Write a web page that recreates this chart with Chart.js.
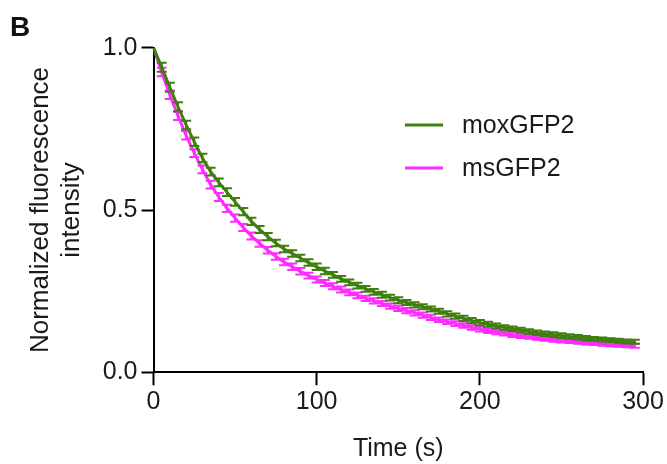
<!DOCTYPE html>
<html>
<head>
<meta charset="utf-8">
<script src="https://cdn.jsdelivr.net/npm/chart.js@4"></script>
<style>
html,body{margin:0;padding:0;background:#fff;}
#wrap{width:667px;height:464px;position:relative;}
</style>
</head>
<body>
<div id="wrap"><canvas id="c" width="667" height="464"></canvas></div>
<script>
// ---- data ----
const panelLabel = 'B';
const xTitle = 'Time (s)';
const yTitle = ['Normalized fluorescence', 'intensity'];
const seriesNames = ['moxGFP2', 'msGFP2'];
const xTicks = [0, 100, 200, 300];
const yTicks = [0.0, 0.5, 1.0];
const times = [0,5,10,15,20,25,30,35,40,45,50,55,60,65,70,75,80,85,90,95,
  100,105,110,115,120,125,130,135,140,145,150,155,160,165,170,175,180,185,190,195,
  200,205,210,215,220,225,230,235,240,245,250,255,260,265,270,275,280,285,290,295];
const moxGFP2 = [1.000,0.940,0.878,0.818,0.762,0.710,0.660,0.618,0.585,0.555,
  0.525,0.495,0.465,0.440,0.418,0.398,0.380,0.366,0.352,0.338,
  0.325,0.312,0.300,0.288,0.277,0.267,0.257,0.248,0.239,0.230,
  0.222,0.215,0.208,0.202,0.195,0.188,0.180,0.173,0.166,0.159,
  0.153,0.148,0.143,0.138,0.134,0.130,0.126,0.122,0.119,0.116,
  0.113,0.110,0.108,0.105,0.103,0.101,0.099,0.097,0.095,0.094];
const moxGFP2Err = [0.000,0.014,0.014,0.014,0.013,0.013,0.013,0.012,0.012,0.012,
  0.012,0.011,0.011,0.011,0.011,0.010,0.010,0.010,0.010,0.010,
  0.010,0.010,0.009,0.009,0.009,0.009,0.009,0.009,0.009,0.009,
  0.009,0.008,0.008,0.008,0.008,0.008,0.008,0.008,0.008,0.008,
  0.008,0.008,0.007,0.007,0.007,0.007,0.007,0.007,0.007,0.007,
  0.007,0.007,0.007,0.007,0.006,0.006,0.006,0.006,0.006,0.006];
const msGFP2 = [1.000,0.925,0.855,0.790,0.730,0.675,0.625,0.578,0.540,0.505,
  0.475,0.446,0.420,0.397,0.376,0.357,0.340,0.325,0.311,0.298,
  0.286,0.275,0.265,0.255,0.246,0.237,0.228,0.220,0.212,0.204,
  0.197,0.190,0.183,0.176,0.169,0.162,0.156,0.150,0.144,0.138,
  0.133,0.128,0.124,0.120,0.116,0.112,0.109,0.106,0.103,0.100,
  0.098,0.096,0.094,0.092,0.090,0.088,0.086,0.085,0.083,0.082];
const msGFP2Err = [0.000,0.013,0.013,0.013,0.013,0.012,0.012,0.012,0.012,0.011,
  0.011,0.011,0.011,0.010,0.010,0.010,0.010,0.010,0.010,0.009,
  0.009,0.009,0.009,0.009,0.009,0.009,0.008,0.008,0.008,0.008,
  0.008,0.008,0.008,0.008,0.008,0.007,0.007,0.007,0.007,0.007,
  0.007,0.007,0.007,0.007,0.007,0.006,0.006,0.006,0.006,0.006,
  0.006,0.006,0.006,0.006,0.006,0.006,0.006,0.006,0.006,0.006];

const GREEN = '#3f7f10';
const PINK = '#ff2cff';
const FONT = "'Liberation Sans', Arial, Helvetica, sans-serif";
const TXT = '#1a1a1a';

const toPts = (ys) => times.map((t, i) => ({x: t, y: ys[i]}));

const errorBars = {
  id: 'errorBars',
  beforeDatasetDraw(chart, args) {
    const ds = chart.data.datasets[args.index];
    if (!ds.errors) return;
    const ctx = chart.ctx, xs = chart.scales.x, ys = chart.scales.y;
    ctx.save();
    ctx.strokeStyle = ds.borderColor;
    ctx.lineWidth = 2;
    ds.data.forEach((p, i) => {
      const e = ds.errors[i];
      if (!e) return;
      const px = xs.getPixelForValue(p.x);
      const y1 = ys.getPixelForValue(p.y + e);
      const y2 = ys.getPixelForValue(p.y - e);
      ctx.beginPath();
      ctx.moveTo(px, y1); ctx.lineTo(px, y2);
      ctx.moveTo(px - 5, y1); ctx.lineTo(px + 5, y1);
      ctx.moveTo(px - 5, y2); ctx.lineTo(px + 5, y2);
      ctx.stroke();
    });
    ctx.restore();
  }
};

const extras = {
  id: 'extras',
  afterDraw(chart) {
    const ctx = chart.ctx;
    ctx.save();
    // panel label
    ctx.fillStyle = '#111';
    ctx.font = "bold 28px " + FONT;
    ctx.textBaseline = 'alphabetic';
    ctx.textAlign = 'left';
    ctx.fillText(panelLabel, 10, 36);
    // legend
    const ys = [125, 168];
    chart.data.datasets.forEach((ds, i) => {
      ctx.strokeStyle = ds.borderColor;
      ctx.lineWidth = 3;
      ctx.beginPath();
      ctx.moveTo(405, ys[i]); ctx.lineTo(443, ys[i]);
      ctx.stroke();
      ctx.fillStyle = TXT;
      ctx.font = "25px " + FONT;
      ctx.textBaseline = 'middle';
      ctx.fillText(ds.label, 462, ys[i] + 1);
    });
    ctx.restore();
  }
};

new Chart(document.getElementById('c'), {
  type: 'line',
  data: {
    datasets: [
      {label: seriesNames[0], data: toPts(moxGFP2), errors: moxGFP2Err,
       borderColor: GREEN, borderWidth: 3, pointRadius: 0, tension: 0, fill: false},
      {label: seriesNames[1], data: toPts(msGFP2), errors: msGFP2Err,
       borderColor: PINK, borderWidth: 3, pointRadius: 0, tension: 0, fill: false}
    ]
  },
  options: {
    responsive: false,
    animation: false,
    devicePixelRatio: 1,
    layout: {padding: {left: 0, top: 47.7, right: 24, bottom: 0}},
    plugins: {legend: {display: false}, tooltip: {enabled: false}},
    scales: {
      x: {
        type: 'linear', min: 0, max: 300,
        afterBuildTicks(s) { s.ticks = xTicks.map(v => ({value: v})); },
        afterFit(s) { s.height = 464 - 372.3; },
        ticks: {color: TXT, font: {family: FONT, size: 25}, padding: 2, maxRotation: 0},
        grid: {drawOnChartArea: false, drawTicks: true, tickLength: 13, tickWidth: 2, tickColor: '#000'},
        border: {display: true, color: '#000', width: 2},
        title: {display: true, text: xTitle, color: TXT, font: {family: FONT, size: 25}, padding: {top: 0, bottom: 0}}
      },
      y: {
        type: 'linear', min: 0, max: 1,
        afterBuildTicks(s) { s.ticks = yTicks.map(v => ({value: v})); },
        afterFit(s) { s.width = 153.5; },
        ticks: {color: TXT, font: {family: FONT, size: 25}, padding: 4, callback: v => v.toFixed(1)},
        grid: {drawOnChartArea: false, drawTicks: true, tickLength: 12, tickWidth: 2, tickColor: '#000'},
        border: {display: true, color: '#000', width: 2},
        title: {display: true, text: yTitle, color: TXT, font: {family: FONT, size: 26, lineHeight: 1.2}, padding: {top: 25, bottom: 0}}
      }
    }
  },
  plugins: [errorBars, extras]
});
</script>
</body>
</html>
